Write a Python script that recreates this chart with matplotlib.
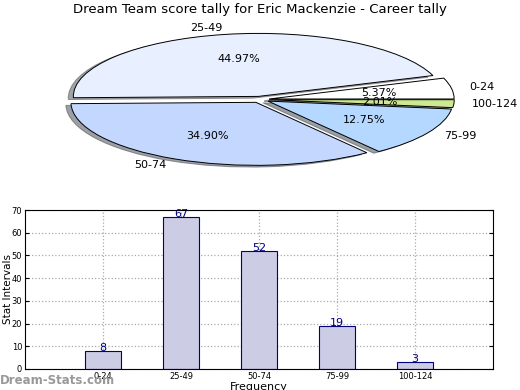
import matplotlib
matplotlib.use('Agg')
import matplotlib.pyplot as plt

title = 'Dream Team score tally for Eric Mackenzie - Career tally'
categories = ['0-24', '25-49', '50-74', '75-99', '100-124']
counts = [8, 67, 52, 19, 3]
pie_colors = ['#ffffff', '#e8f0ff', '#c4d8ff', '#b4d8ff', '#cce890']

fig = plt.figure(figsize=(5.2, 3.9), dpi=100)

# pie on top, squashed into an ellipse
W, H = 520.0, 390.0
ux, uy = 185.0, 63.0
cx, cy = 260.0, 99.5
ax1 = fig.add_axes([(cx - 1.25 * ux) / W, (H - cy - 1.25 * uy) / H,
                    2.5 * ux / W, 2.5 * uy / H])
wedges, texts, autotexts = ax1.pie(
    counts, labels=categories, colors=pie_colors, autopct='%1.2f%%',
    explode=[0.05] * len(counts), shadow=True, startangle=0,
    wedgeprops={'edgecolor': 'black', 'linewidth': 0.7},
    textprops={'fontsize': 8})
ax1.set_aspect('auto')
ax1.set_xlim(-1.25, 1.25)
ax1.set_ylim(-1.25, 1.25)
fig.text(0.5, 0.975, title, ha='center', va='center', fontsize=9.5)

# bar chart below
ax2 = fig.add_axes([25 / W, 21 / H, 468 / W, 159 / H])
xs = list(range(1, len(categories) + 1))
ax2.bar(xs, counts, width=0.45, color='#ccccE4', edgecolor='#000080',
        linewidth=0.8, zorder=2)
for x, v in zip(xs, counts):
    ax2.text(x, v - 1, str(v), ha='center', va='bottom', color='#000080',
             fontsize=8, zorder=3)
ax2.set_xlim(0, 6)
ax2.set_ylim(0, 70)
ax2.set_xticks(xs)
ax2.set_xticklabels(categories)
ax2.set_yticks(range(0, 71, 10))
ax2.tick_params(labelsize=6, direction='in', length=3, right=True, top=False,
                pad=2)
ax2.grid(True, linestyle=':', color='#aaaaaa', linewidth=0.9, zorder=0)
ax2.set_ylabel('Stat Intervals', fontsize=7.5)
ax2.yaxis.set_label_coords(-0.026, 0.5)
ax2.set_xlabel('Frequency', fontsize=8, labelpad=1)

fig.text(0.0, 0.025, 'Dream-Stats.com', fontsize=8.5, fontweight='bold',
         color='#999999', ha='left', va='center')

fig.savefig('out.png', dpi=100)
